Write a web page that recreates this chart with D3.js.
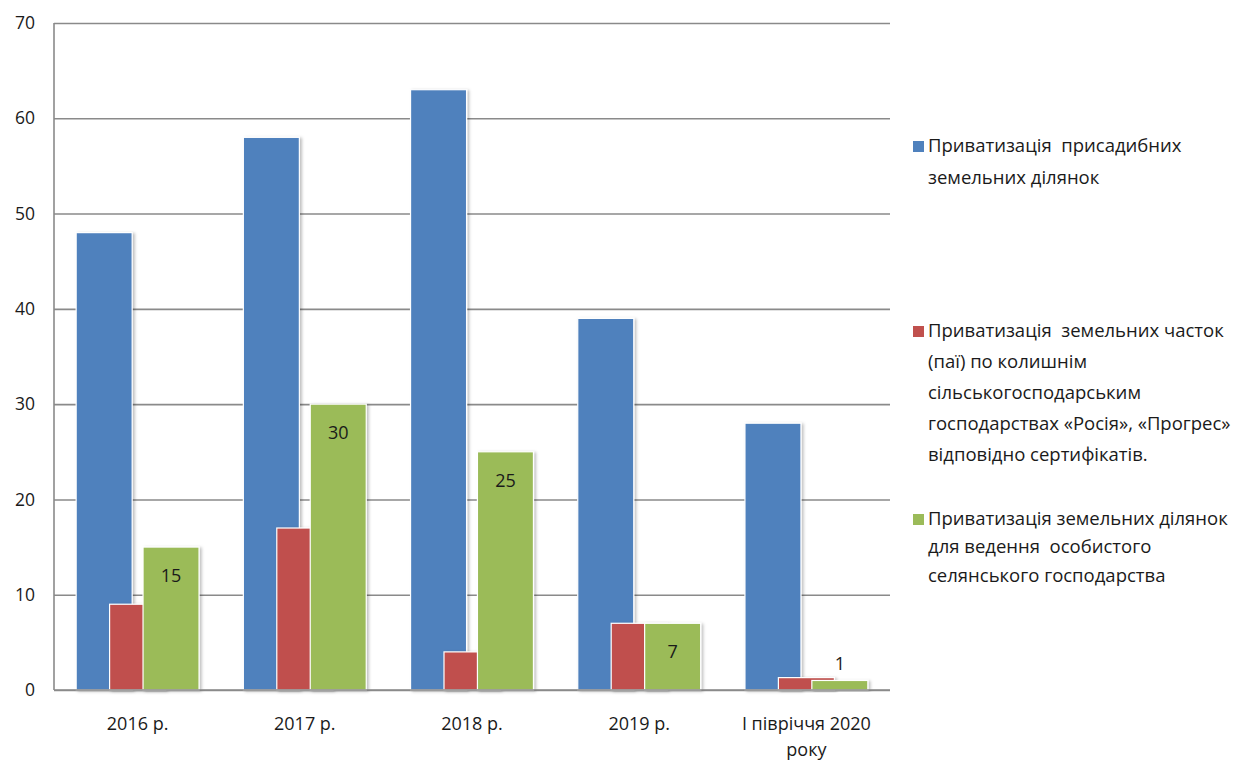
<!DOCTYPE html>
<html>
<head>
<meta charset="utf-8">
<script src="https://cdn.jsdelivr.net/npm/d3@7"></script>
<style>
  html, body { margin: 0; padding: 0; background: #fff; }
  svg { display: block; }
  text { font-family: "Open Sans", Lato, sans-serif; fill: #1a1a1a; }
</style>
</head>
<body>
<svg id="chart" width="1245" height="762"></svg>
<script>
const categories = ["2016 р.", "2017 р.", "2018 р.", "2019 р.", "І півріччя 2020|року"];
const seriesNames = [
  "Приватизація  присадибних|земельних ділянок",
  "Приватизація  земельних часток|(паї) по колишнім|сільськогосподарським|господарствах «Росія», «Прогрес»|відповідно сертифікатів.",
  "Приватизація земельних ділянок|для ведення  особистого|селянського господарства"
];
const seriesColors = ["#4F81BD", "#C0504D", "#9BBB59"];
const homesteadPlots = [48, 58, 63, 39, 28];
const landShares = [9, 17, 4, 7, 1.3];
const personalFarmPlots = [15, 30, 25, 7, 1];
const yTicks = [0, 10, 20, 30, 40, 50, 60, 70];

const seriesValues = [homesteadPlots, landShares, personalFarmPlots];
const showLabels = [false, false, true];

const svg = d3.select("#chart");
const mLeft = 54, mRight = 890, mTop = 23, mBottom = 690;

const x = d3.scaleBand().domain(categories).range([mLeft, mRight]).padding(0);
const y = d3.scaleLinear().domain([0, 70]).range([mBottom, mTop]);
const bw = x.bandwidth();
const sOff = d3.scalePoint().domain(d3.range(3)).range([-0.2 * bw, 0.2 * bw]);
const barW = 0.335 * bw;

const defs = svg.append("defs");
const f = defs.append("filter").attr("id", "sh").attr("x", "-20%").attr("y", "-20%").attr("width", "140%").attr("height", "140%");
f.append("feDropShadow").attr("dx", 2).attr("dy", 1).attr("stdDeviation", 1.5).attr("flood-color", "#000").attr("flood-opacity", 0.25);

// gridlines
const yAxis = d3.axisLeft(y).tickValues(yTicks).tickSize(-(mRight - mLeft)).tickFormat(d3.format("d"));
const gy = svg.append("g").attr("transform", `translate(${mLeft},0)`).call(yAxis);
gy.select(".domain").remove();
gy.selectAll(".tick line").attr("stroke", "#8a8a8a").attr("stroke-width", 1.6);
gy.selectAll(".tick text").attr("x", -19).attr("font-size", 17.5).attr("fill", "#1a1a1a").attr("font-family", "'Open Sans', sans-serif");

// left axis line
svg.append("line").attr("x1", mLeft).attr("x2", mLeft).attr("y1", y(70)).attr("y2", y(0))
  .attr("stroke", "#8a8a8a").attr("stroke-width", 1.6);

// bars
seriesValues.forEach((vals, s) => {
  const g = svg.append("g");
  g.selectAll("rect").data(vals).join("rect")
    .attr("x", (d, i) => x(categories[i]) + bw / 2 + sOff(s) - barW / 2)
    .attr("y", d => y(d))
    .attr("width", barW)
    .attr("height", d => y(0) - y(d))
    .attr("fill", seriesColors[s])
    .attr("stroke", "#fff").attr("stroke-width", 1.2)
    .attr("filter", "url(#sh)");
  if (showLabels[s]) {
    g.selectAll("text").data(vals).join("text")
      .attr("x", (d, i) => x(categories[i]) + bw / 2 + sOff(s))
      .attr("y", d => (y(0) - y(d) > 40 ? y(d) + 30 : y(d) - 15))
      .attr("text-anchor", "middle").attr("dominant-baseline", "middle")
      .attr("font-size", 18)
      .text(d => d);
  }
});

// baseline
svg.append("line").attr("x1", mLeft).attr("x2", mRight).attr("y1", y(0)).attr("y2", y(0))
  .attr("stroke", "#8a8a8a").attr("stroke-width", 1.6);

// x labels
const xl = svg.append("g");
categories.forEach(c => {
  const t = xl.append("text").attr("x", x(c) + bw / 2).attr("y", 730)
    .attr("text-anchor", "middle").attr("font-size", 18);
  c.split("|").forEach((ln, k) => {
    t.append("tspan").attr("x", x(c) + bw / 2).attr("dy", k === 0 ? 0 : 26).text(ln);
  });
});

// legend
const legendY = [147, 332, 520];
const legendLH = [32, 31, 28.5];
seriesNames.forEach((name, s) => {
  const g = svg.append("g");
  g.append("rect").attr("x", 913).attr("y", legendY[s] - 6).attr("width", 11).attr("height", 11)
    .attr("fill", seriesColors[s]);
  name.split("|").forEach((ln, k) => {
    g.append("text").attr("x", 928).attr("y", legendY[s] + k * legendLH[s])
      .attr("dominant-baseline", "middle").attr("font-size", 18.5)
      .style("white-space", "pre")
      .text(ln);
  });
});
</script>
</body>
</html>
